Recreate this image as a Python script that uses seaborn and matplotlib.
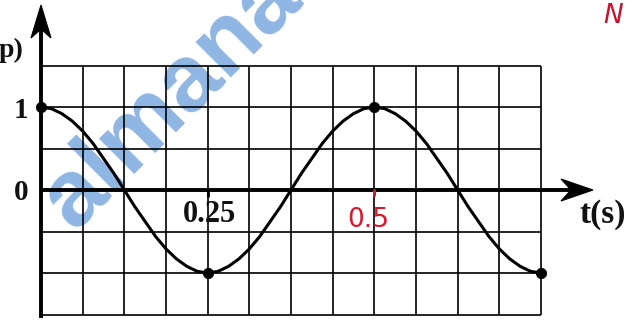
import numpy as np
import pandas as pd
import matplotlib
matplotlib.use("Agg")
import matplotlib.pyplot as plt
import seaborn as sns
from matplotlib.patches import Polygon

sns.set_theme(style="white")
plt.rcParams["font.family"] = ["Liberation Serif", "DejaVu Sans"]

# ---- data -------------------------------------------------------------
# time (s) of the sampled points along the curve, one every quarter grid column
t_values = [i * 0.015625 for i in range(49)]
# displacement (one period = 0.5 s)
disp_values = [
    1.00, 0.98, 0.92, 0.83, 0.71, 0.56, 0.38, 0.20,
    0.00, -0.20, -0.38, -0.56, -0.71, -0.83, -0.92, -0.98,
    -1.00, -0.98, -0.92, -0.83, -0.71, -0.56, -0.38, -0.20,
    0.00, 0.20, 0.38, 0.56, 0.71, 0.83, 0.92, 0.98,
    1.00, 0.98, 0.92, 0.83, 0.71, 0.56, 0.38, 0.20,
    0.00, -0.20, -0.38, -0.56, -0.71, -0.83, -0.92, -0.98,
    -1.00,
]
# marked extreme points
peak_t = [0.0, 0.25, 0.5, 0.75]
peak_disp = [1.0, -1.0, 1.0, -1.0]

# grid lines
grid_t = [i * 0.0625 for i in range(13)]
grid_y = [-1.5, -1.0, -0.5, 0.0, 0.5, 1.0, 1.5]

# axis labels
y_tick_values = [1, 0]
y_tick_labels = ["1", "0"]
x_tick_value = 0.25
x_tick_label = "0.25"
x_note_value = 0.5
x_note_label = "0.5"

curve = pd.DataFrame({"t": t_values, "x": disp_values})
peaks = pd.DataFrame({"t": peak_t, "x": peak_disp})

# ---- figure -------------------------------------------------------------
W, H = 636, 327
fig = plt.figure(figsize=(W / 100, H / 100), dpi=100)
ax = fig.add_axes([0, 0, 1, 1])
ax.set_axis_off()

# one grid column spans ~41.7 px, one unit of displacement ~83 px
T_PER_PX = 0.0625 / 41.667
Y_PER_PX = 1.0 / 83.0
X0_PX, Y0_PX = 41, 190          # pixel position of the origin


def at(px, py):
    """Pixel position (from the top-left corner) to data coordinates."""
    return (px - X0_PX) * T_PER_PX, (Y0_PX - py) * Y_PER_PX


ax.set_xlim(*sorted([at(0, 0)[0], at(W, 0)[0]]))
ax.set_ylim(at(0, H)[1], at(0, 0)[1])

# watermark behind everything
wx, wy = at(74, 232)
ax.text(wx, wy, "almanahj", rotation=45, rotation_mode="anchor",
        ha="left", va="baseline", fontsize=68, fontweight="bold",
        family="Liberation Sans", color="#8fb6e3", zorder=0)

# grid
ax.vlines(grid_t, grid_y[0], grid_y[-1], colors="black", linewidth=1.2, zorder=1)
ax.hlines(grid_y, grid_t[0], grid_t[-1], colors="black", linewidth=1.2, zorder=1)

# axes
x_tip = at(593, 0)[0]
y_tip = at(0, 5)[1]
ax.plot([0, x_tip - 20 * T_PER_PX], [0, 0], color="black", linewidth=2.8,
        solid_capstyle="butt", zorder=3)
ax.plot([0, 0], [at(0, 318)[1], y_tip - 20 * Y_PER_PX], color="black",
        linewidth=2.8, solid_capstyle="butt", zorder=3)


def head(tip, direction):
    # barbed arrowhead, sizes in pixels
    tx, ty = tip
    if direction == "right":
        pts = [(0, 0), (-32, 11), (-22, 0), (-32, -11)]
    else:
        pts = [(0, 0), (-10, -33), (0, -24), (10, -33)]
    pts = [(tx + dx * T_PER_PX, ty + dy * Y_PER_PX) for dx, dy in pts]
    ax.add_patch(Polygon(pts, closed=True, facecolor="black",
                         edgecolor="black", linewidth=0.8, zorder=4))


head((x_tip, 0), "right")
head((0, y_tip), "up")

# curve and extreme points
sns.lineplot(data=curve, x="t", y="x", ax=ax, color="black", linewidth=2.2,
             sort=False, zorder=5)
sns.scatterplot(data=peaks, x="t", y="x", ax=ax, color="black", s=55,
                edgecolor="black", zorder=6, legend=False)
ax.set_xlim(*sorted([at(0, 0)[0], at(W, 0)[0]]))
ax.set_ylim(at(0, H)[1], at(0, 0)[1])
ax.set_axis_off()

# small ticks on the time axis
ax.plot([x_tick_value, x_tick_value], [0, -6 * Y_PER_PX], color="black",
        linewidth=2, zorder=4)
ax.plot([x_note_value, x_note_value], [0, -5 * Y_PER_PX], color="#d8182c",
        linewidth=2.2, zorder=4)

# labels
for v, lab in zip(y_tick_values, y_tick_labels):
    ax.text(at(21, 0)[0], v - 3 * Y_PER_PX, lab, ha="center", va="center",
            fontsize=21, fontweight="bold", color="#111111")
ax.text(x_tick_value + 2 * T_PER_PX, at(0, 215)[1], x_tick_label,
        ha="center", va="center", fontsize=22, fontweight="bold",
        color="#111111")
ax.text(x_note_value - 6 * T_PER_PX, at(0, 220)[1], x_note_label,
        ha="center", va="center", fontsize=19, color="#d8182c",
        family="DejaVu Sans")
px, py = at(603, 214)
ax.text(px, py, "t(s)", ha="center", va="center", fontsize=24,
        fontweight="bold", color="#111111")
px, py = at(-1, 50)
ax.text(px, py, "p)", ha="left", va="center", fontsize=20, fontweight="bold",
        color="#111111")
px, py = at(613, 16)
ax.text(px, py, "N", ha="center", va="center", fontsize=19, style="italic",
        color="#c8102e", family="DejaVu Sans")

fig.savefig("out.png", dpi=100, facecolor="white")
